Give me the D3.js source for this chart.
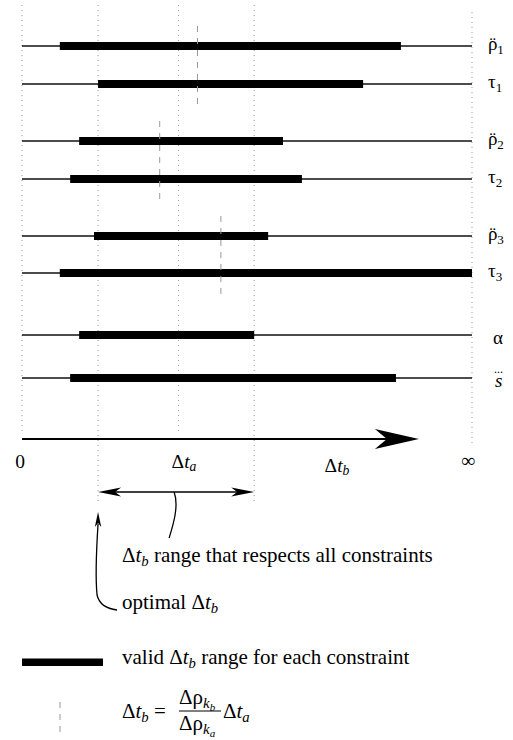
<!DOCTYPE html>
<html>
<head>
<meta charset="utf-8">
<script src="https://d3js.org/d3.v7.min.js"></script>
<style>
  body { margin: 0; background: #fff; }
</style>
</head>
<body>
<svg id="vis"></svg>

<script>
  // constraint rows (top to bottom)
  var names = ['ρ', 'τ', 'ρ', 'τ', 'ρ', 'τ', 'α', 's']
  var subs = ['1', '1', '2', '2', '3', '3', '', '']
  var marks = ['¨', '', '¨', '', '¨', '', '', '...']
  // valid Δt_b range per constraint, on a 0..100 (0..∞) scale
  var lower = [8.4, 16.9, 12.7, 10.7, 16.0, 8.4, 12.7, 10.7]
  var upper = [84.2, 75.8, 58.0, 62.2, 54.7, 100, 51.6, 83.1]
  // Δt_b = Δρkb/Δρka Δt_a, one per ρ̈/τ pair
  var ratios = [39.0, 30.6, 44.2]
  var deltaTa = 34.8
  var tickValues = [0, 36, 70, 100]
  var tickNames = ['0', 'Δt|a', 'Δt|b', '∞']

  var width = 513
  var height = 740
  var serif = "'Liberation Serif', 'Times New Roman', serif"

  var svg = d3.select('#vis')
    .attr('width', width)
    .attr('height', height)

  // Scale
  var x = d3.scaleLinear()
    .domain([0, 100])
    .range([22, 472])

  var rowY = d3.scaleOrdinal()
    .domain(d3.range(names.length))
    .range([46, 84, 141, 179, 236, 273, 335, 378])

  var optimal = d3.max(lower)
  var best = d3.min(upper)
  var axisY = 439

  // dotted guides
  var guides = [
    {v: 0, y1: 5, y2: 433},
    {v: optimal, y1: 5, y2: 504},
    {v: deltaTa, y1: 5, y2: 433},
    {v: best, y1: 5, y2: 504},
    {v: 100, y1: 12, y2: 443}
  ]
  svg.selectAll('line.guide')
    .data(guides)
    .enter().append('line')
      .attr('class', 'guide')
      .attr('x1', function (d) { return x(d.v) })
      .attr('x2', function (d) { return x(d.v) })
      .attr('y1', function (d) { return d.y1 })
      .attr('y2', function (d) { return d.y2 })
      .attr('stroke', '#999')
      .attr('stroke-width', 1)
      .attr('stroke-dasharray', '1,4')

  // thin full-length lines
  svg.selectAll('line.row')
    .data(names)
    .enter().append('line')
      .attr('class', 'row')
      .attr('x1', x(0))
      .attr('x2', x(100))
      .attr('y1', function (d, i) { return rowY(i) })
      .attr('y2', function (d, i) { return rowY(i) })
      .attr('stroke', '#111')
      .attr('stroke-width', 1.4)

  // valid ranges
  svg.selectAll('rect.range')
    .data(names)
    .enter().append('rect')
      .attr('class', 'range')
      .attr('x', function (d, i) { return x(lower[i]) })
      .attr('width', function (d, i) { return x(upper[i]) - x(lower[i]) })
      .attr('y', function (d, i) { return rowY(i) - 4 })
      .attr('height', 8)
      .attr('fill', '#000')

  // ratio lines
  svg.selectAll('line.ratio')
    .data(ratios)
    .enter().append('line')
      .attr('class', 'ratio')
      .attr('x1', function (d) { return x(d) })
      .attr('x2', function (d) { return x(d) })
      .attr('y1', function (d, g) { return rowY(2 * g) - 20 })
      .attr('y2', function (d, g) { return rowY(2 * g + 1) + 24 })
      .attr('stroke', '#999')
      .attr('stroke-width', 1)
      .attr('stroke-dasharray', '6,6')

  // row labels
  var labX = [488, 488, 488, 488, 488, 488, 493, 494]
  var lab = svg.selectAll('text.lab')
    .data(names)
    .enter().append('text')
      .attr('class', 'lab')
      .attr('x', function (d, i) { return labX[i] })
      .attr('y', function (d, i) { return rowY(i) + (subs[i] ? 4 : 9) })
      .attr('font-size', 19)
  lab.append('tspan')
    .attr('font-style', function (d) { return d == 's' ? 'italic' : 'normal' })
    .text(function (d) { return d })
  // dots above (ρ̈, s⃛), kept in the same text
  lab.filter(function (d, i) { return marks[i] == '¨' })
    .append('tspan')
      .attr('dx', -8)
      .text('¨')
  lab.filter(function (d, i) { return marks[i] == '...' })
    .append('tspan')
      .attr('font-size', 12)
      .attr('dx', -8.5)
      .attr('dy', -14)
      .text('...')
  lab.append('tspan')
    .attr('font-size', 13)
    .attr('dx', function (d, i) { return marks[i] == '¨' ? 1.5 : 0 })
    .attr('dy', 4)
    .text(function (d, i) { return subs[i] })

  // Axis
  var tipX = x(88.2)
  svg.append('line')
    .attr('x1', x(0)).attr('x2', tipX - 30)
    .attr('y1', axisY).attr('y2', axisY)
    .attr('stroke', '#000').attr('stroke-width', 1.8)
  function head(tx, ty, dir, len, half, notch) {
    // dir: 1 right, -1 left, 'up'
    if (dir === 'up') {
      return 'M' + tx + ',' + ty + ' L' + (tx - half) + ',' + (ty + len) +
        ' L' + tx + ',' + (ty + len - notch) + ' L' + (tx + half) + ',' + (ty + len) + 'Z'
    }
    return 'M' + tx + ',' + ty + ' L' + (tx - dir * len) + ',' + (ty - half) +
      ' L' + (tx - dir * (len - notch)) + ',' + ty + ' L' + (tx - dir * len) + ',' + (ty + half) + 'Z'
  }
  svg.append('path')
    .attr('d', head(tipX, axisY, 1, 44, 10, 12))
    .attr('fill', '#000')

  // tick labels
  function mathText(sel, str) {
    var parts = str.split('|')
    var main = parts[0]
    if (main.charAt(0) == 'Δ') {
      sel.append('tspan').text('Δ')
      sel.append('tspan').attr('font-style', 'italic').text(main.slice(1))
    } else {
      sel.append('tspan').text(main)
    }
    if (parts[1]) {
      sel.append('tspan')
        .attr('font-style', 'italic')
        .attr('font-size', '0.7em')
        .attr('dy', '0.25em')
        .text(parts[1])
    }
  }
  var tickDx = [-2, 0, 0, -4]
  var tickDy = [468, 468, 472, 467]
  tickNames.forEach(function (t, i) {
    var tx = svg.append('text')
      .attr('x', x(tickValues[i]) + tickDx[i])
      .attr('y', tickDy[i])
      .attr('text-anchor', 'middle')
      .attr('font-size', 19.5)
    mathText(tx, t)
  })

  // range that respects all constraints
  var ay = 492
  svg.append('line')
    .attr('x1', x(optimal) + 10).attr('x2', x(best) - 10)
    .attr('y1', ay).attr('y2', ay)
    .attr('stroke', '#000').attr('stroke-width', 1.4)
  svg.append('path').attr('d', head(x(optimal), ay, -1, 23, 4.5, 6)).attr('fill', '#000')
  svg.append('path').attr('d', head(x(best), ay, 1, 23, 4.5, 6)).attr('fill', '#000')
  var mid = (x(optimal) + x(best)) / 2
  svg.append('path')
    .attr('d', 'M' + (mid - 2) + ',' + ay + ' C' + (mid + 3) + ',506 ' + (mid - 3) + ',525 ' + (mid - 7) + ',538')
    .attr('fill', 'none').attr('stroke', '#000').attr('stroke-width', 1.3)

  var t1 = svg.append('text').attr('x', 122).attr('y', 562).attr('font-size', 21)
  mathText(t1, 'Δt|b')
  t1.append('tspan').attr('dy', '-0.175em').text(' range that respects all constraints')

  // optimal
  var ox = x(optimal)
  svg.append('path').attr('d', head(ox, 512, 'up', 15, 3.2, 4)).attr('fill', '#000')
  svg.append('path')
    .attr('d', 'M' + ox + ',524 C' + (ox - 2) + ',555 ' + (ox - 2) + ',585 ' + (ox - 1) + ',595 Q' + (ox + 2) + ',608 ' + (ox + 19) + ',610')
    .attr('fill', 'none').attr('stroke', '#000').attr('stroke-width', 1.3)
  var t2 = svg.append('text').attr('x', 122).attr('y', 609).attr('font-size', 21)
  t2.append('tspan').text('optimal ')
  mathText(t2, 'Δt|b')

  // Legend
  svg.append('rect')
    .attr('x', 22).attr('y', 658.5).attr('width', 81).attr('height', 7.5)
    .attr('fill', '#000')
  var t3 = svg.append('text').attr('x', 122).attr('y', 664).attr('font-size', 21)
  t3.append('tspan').text('valid ')
  mathText(t3, 'Δt|b')
  t3.append('tspan').attr('dy', '-0.175em').text(' range for each constraint')

  svg.append('line')
    .attr('x1', 60).attr('x2', 60).attr('y1', 702).attr('y2', 734)
    .attr('stroke', '#999').attr('stroke-width', 1)
    .attr('stroke-dasharray', '6,6')

  var t4 = svg.append('text').attr('x', 122).attr('y', 718).attr('font-size', 21)
  mathText(t4, 'Δt|b')
  t4.append('tspan').attr('dy', '-0.175em').text(' =')

  function frac(y, sub) {
    var t = svg.append('text').attr('x', 179).attr('y', y).attr('font-size', 21)
    t.append('tspan').text('Δρ')
    t.append('tspan').attr('font-style', 'italic').attr('font-size', 15).attr('dy', 4).text('k')
    t.append('tspan').attr('font-style', 'italic').attr('font-size', 11).attr('dy', 3).text(sub)
  }
  frac(704, 'b')
  frac(730, 'a')
  svg.append('line')
    .attr('x1', 179).attr('x2', 221).attr('y1', 711).attr('y2', 711)
    .attr('stroke', '#000').attr('stroke-width', 1)
  var t5 = svg.append('text').attr('x', 223).attr('y', 718).attr('font-size', 21)
  mathText(t5, 'Δt|a')

  // serif everywhere
  svg.selectAll('text').style('font-family', serif).style('fill', '#000')
</script>
</body>
</html>
